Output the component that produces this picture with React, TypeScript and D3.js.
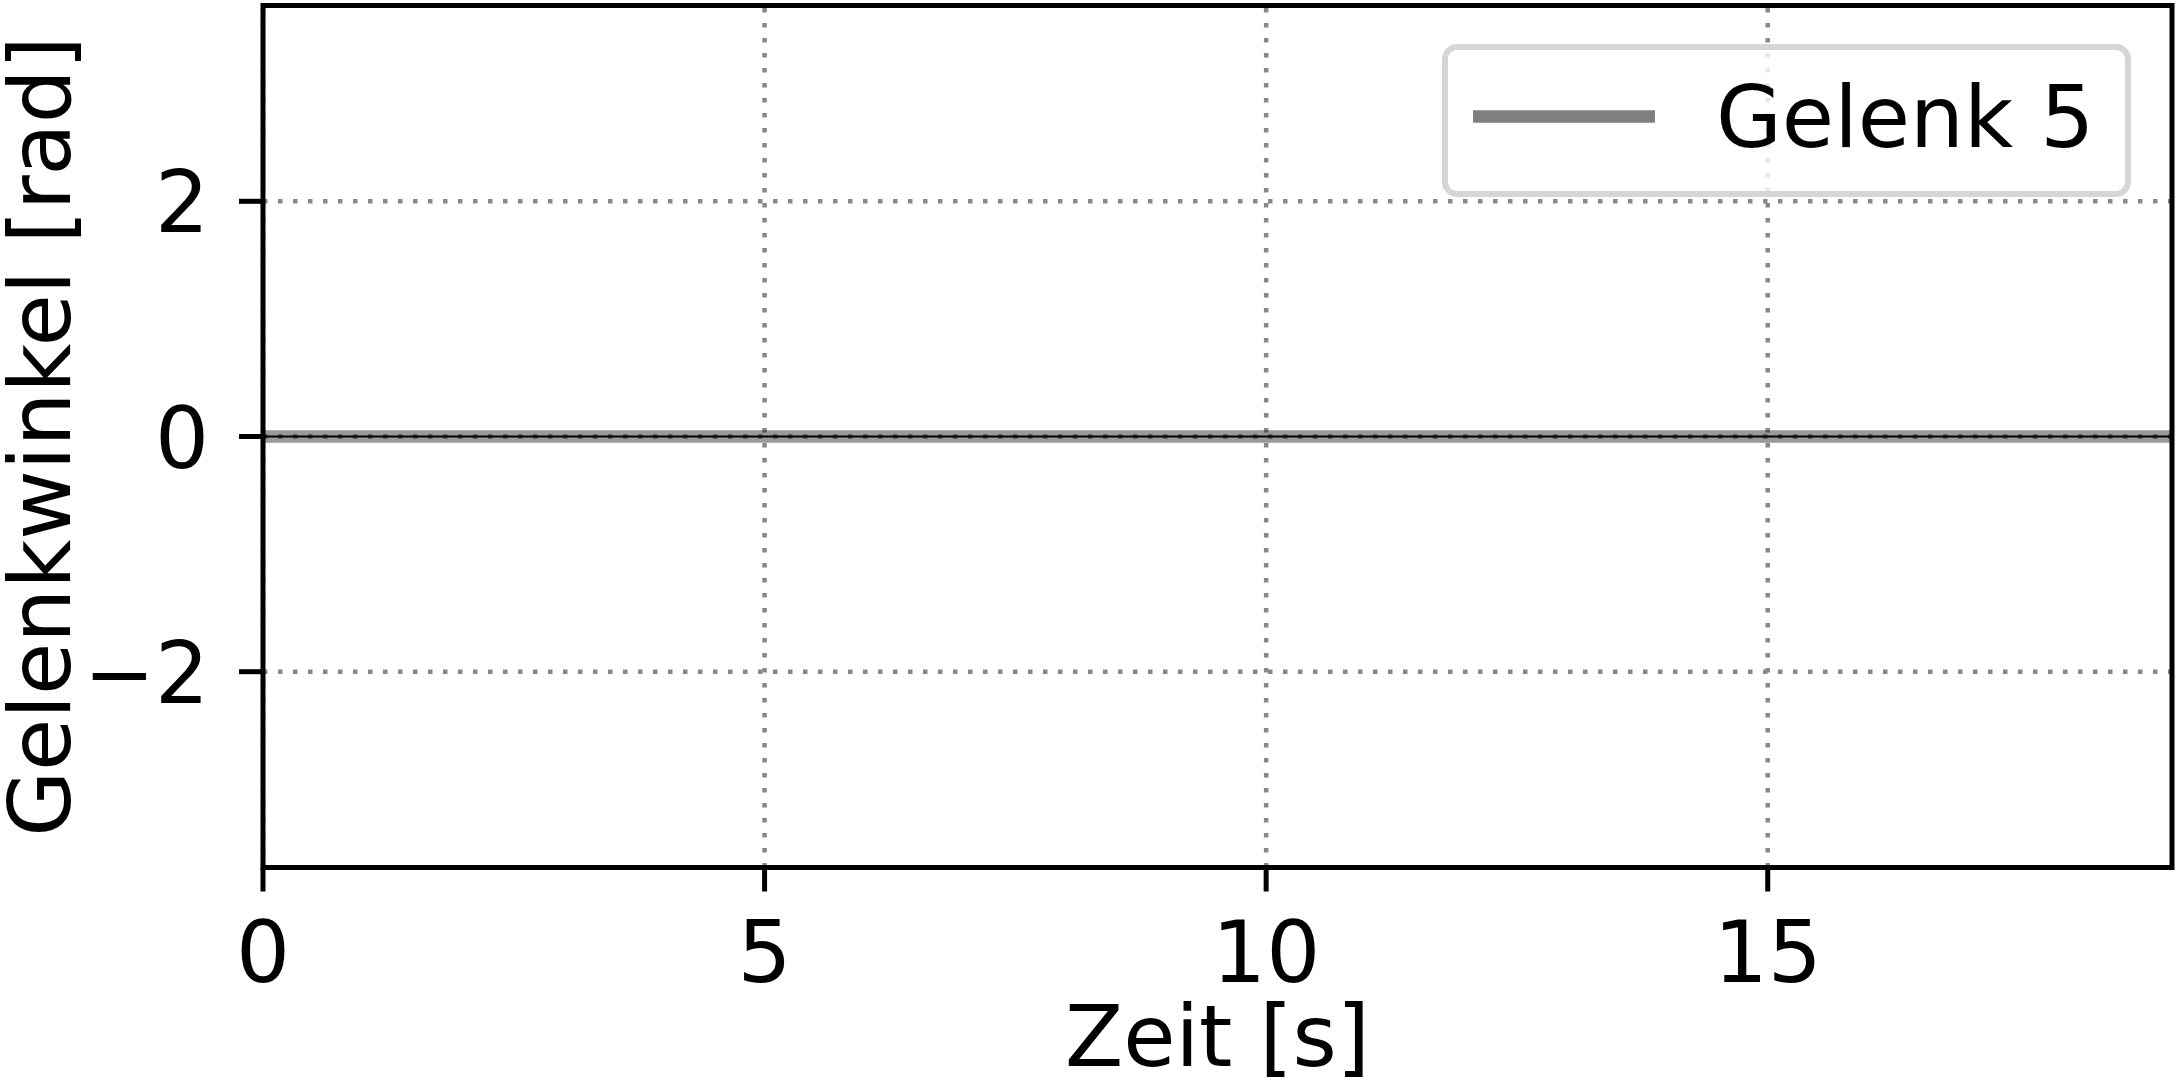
import React from "react";
import * as d3 from "d3";

const timeValues = [0, 5, 10, 15, 19.03];
const gelenk5Values = [0, 0, 0, 0, 0];
const xTicks = [0, 5, 10, 15];
const yTicks = [-2, 0, 2];
const seriesLabel = "Gelenk 5";
const xLabel = "Zeit [s]";
const yLabel = "Gelenkwinkel [rad]";

const W = 2176;
const H = 1089;
const FONT = "DejaVu Sans";

export default function App() {
  const x = d3.scaleLinear().domain([0, 19.03]).range([263, 2172]);
  const y = d3.scaleLinear().domain([-3.665, 3.665]).range([867.5, 5.5]);
  const pts: [number, number][] = timeValues.map((t, i) => [t, gelenk5Values[i]]);
  const line = d3
    .line<[number, number]>()
    .x((d) => x(d[0]))
    .y((d) => y(d[1]));
  const path = line(pts) || "";
  const [x0, x1] = x.range();
  const [yb, yt] = y.range();
  const fmt = (v: number) => (v < 0 ? "\u2212" + Math.abs(v) : String(v));

  return (
    <div style={{ position: "absolute", left: 0, top: 0 }}>
      <svg width={W} height={H} style={{ display: "block", background: "#fff" }} fontFamily={FONT}>
        <rect x={0} y={0} width={W} height={H} fill="#fff" />
        {/* data band */}
        <path d={path} fill="none" stroke="#808080" strokeOpacity={0.8} strokeWidth={12.5} />
        {/* grid */}
        <g style={{ mixBlendMode: "multiply" }}>
          {xTicks.map((t) => (
            <line key={"gx" + t} x1={x(t)} x2={x(t)} y1={yb} y2={yt} stroke="#888" strokeWidth={4.5} strokeDasharray="4.5,10.5" />
          ))}
          {yTicks.map((t) => (
            <line key={"gy" + t} x1={x0} x2={x1} y1={y(t)} y2={y(t)} stroke="#888" strokeWidth={4.5} strokeDasharray="4.5,10.5" />
          ))}
        </g>
        {/* thin center line */}
        <path d={path} fill="none" stroke="#000" strokeWidth={2} />
        {/* spines */}
        <rect x={x0} y={yt} width={x1 - x0} height={yb - yt} fill="none" stroke="#000" strokeWidth={5} />
        {/* x ticks */}
        {xTicks.map((t) => (
          <g key={"xt" + t}>
            <line x1={x(t)} x2={x(t)} y1={yb} y2={yb + 24} stroke="#000" strokeWidth={5} />
            <text x={x(t)} y={982} fontSize={85} textAnchor="middle" fill="#000">
              {fmt(t)}
            </text>
          </g>
        ))}
        {/* y ticks */}
        {yTicks.map((t) => (
          <g key={"yt" + t}>
            <line x1={x0 - 24} x2={x0} y1={y(t)} y2={y(t)} stroke="#000" strokeWidth={5} />
            <text x={209} y={y(t) + 31} fontSize={85} textAnchor="end" fill="#000">
              {fmt(t)}
            </text>
          </g>
        ))}
        {/* axis labels */}
        <text x={(x0 + x1) / 2} y={1066} fontSize={85} textAnchor="middle" fill="#000">
          {xLabel}
        </text>
        <text
          transform={`translate(70, ${(yb + yt) / 2}) rotate(-90)`}
          fontSize={85}
          textAnchor="middle"
          fill="#000"
        >
          {yLabel}
        </text>
        {/* legend */}
        <rect x={1445} y={47} width={683} height={147} rx={12} ry={12} fill="#fff" fillOpacity={0.8} stroke="#d6d6d6" strokeWidth={6} />
        <line x1={1473} x2={1655} y1={116.5} y2={116.5} stroke="#808080" strokeWidth={12.5} />
        <text x={1716} y={147} fontSize={85} fill="#000">
          {seriesLabel}
        </text>
      </svg>
    </div>
  );
}
